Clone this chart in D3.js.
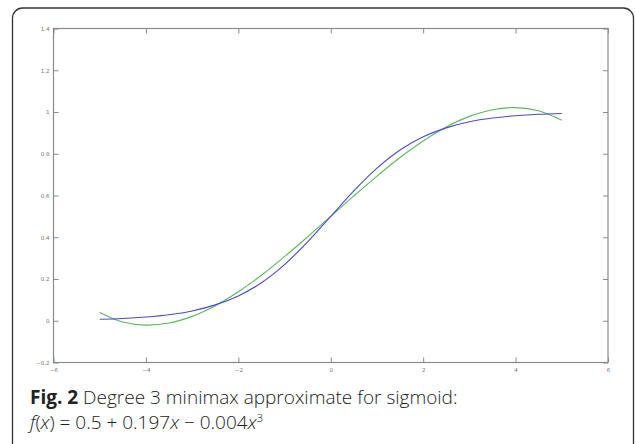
<!DOCTYPE html>
<html>
<head>
<meta charset="utf-8">
<title>sigmoid minimax</title>
<script src="https://cdnjs.cloudflare.com/ajax/libs/d3/7.8.5/d3.min.js"></script>
<style>
body{margin:0;background:#fff}
svg{display:block}
</style>
</head>
<body>
<svg width="635" height="444"></svg>
<script>
// values, x = -5 .. 5 step 0.5
var xs = [-5,-4.5,-4,-3.5,-3,-2.5,-2,-1.5,-1,-0.5,0,0.5,1,1.5,2,2.5,3,3.5,4,4.5,5]
var sigmoidVals = [0.007,0.011,0.018,0.029,0.047,0.076,0.119,0.182,0.269,0.378,0.5,0.622,0.731,0.818,0.881,0.924,0.953,0.971,0.982,0.989,0.993]
var approxVals = [0.040,-0.006,-0.021,-0.011,0.021,0.072,0.139,0.218,0.307,0.402,0.5,0.598,0.693,0.782,0.861,0.928,0.979,1.011,1.021,1.006,0.960]
var xTicks = [-6,-4,-2,0,2,4,6]
var yTicks = [-0.2,0,0.2,0.4,0.6,0.8,1,1.2,1.4]

var svg = d3.select('svg')

// figure frame
svg.append('rect')
	.attr('x',12.5).attr('y',8)
	.attr('width',621).attr('height',470)
	.attr('rx',10)
	.attr('fill','none')
	.attr('stroke','#333')
	.attr('stroke-width',1.3)

var plotL = 53.5, plotR = 608, plotT = 28.5, plotB = 362.5
var x = d3.scaleLinear().domain([-6,6]).range([plotL,plotR])
var y = d3.scaleLinear().domain([-0.2,1.4]).range([plotB,plotT])

var axisColor = '#8a8a8a'
function styleAxis(g){
	g.select('.domain').remove()
	g.selectAll('line').attr('stroke',axisColor).attr('stroke-width',1)
	g.selectAll('text').attr('fill','#777').attr('font-size',5.5).attr('font-family','DejaVu Sans')
}

// box
svg.append('rect')
	.attr('x',plotL).attr('y',plotT)
	.attr('width',plotR-plotL).attr('height',plotB-plotT)
	.attr('fill','none').attr('stroke',axisColor).attr('stroke-width',1.2)

svg.append('g').attr('transform','translate(0,'+plotB+')')
	.call(d3.axisBottom(x).tickValues(xTicks).tickSize(-5).tickPadding(6).tickFormat(d3.format('d')))
	.call(styleAxis)
svg.append('g').attr('transform','translate(0,'+plotT+')')
	.call(d3.axisTop(x).tickValues(xTicks).tickSize(-5).tickFormat(''))
	.call(styleAxis)
svg.append('g').attr('transform','translate('+plotL+',0)')
	.call(d3.axisLeft(y).tickValues(yTicks).tickSize(-5).tickPadding(4).tickFormat(d => d3.format('~g')(d)))
	.call(styleAxis)
svg.append('g').attr('transform','translate('+plotR+',0)')
	.call(d3.axisRight(y).tickValues(yTicks).tickSize(-5).tickFormat(''))
	.call(styleAxis)

var line = d3.line().curve(d3.curveCatmullRom)
	.x(d => x(d[0])).y(d => y(d[1]))

svg.append('path')
	.datum(xs.map((v,i) => [v,approxVals[i]]))
	.attr('d',line).attr('fill','none')
	.attr('stroke','#5cb85c').attr('stroke-width',1.1)

svg.append('path')
	.datum(xs.map((v,i) => [v,sigmoidVals[i]]))
	.attr('d',line).attr('fill','none')
	.attr('stroke','#4a4ad8').attr('stroke-width',1.1)

// caption
var cap = svg.append('g').attr('font-family','Open Sans').attr('font-size',19).attr('fill','#222')
var t1 = cap.append('text').attr('x',30).attr('y',404)
t1.append('tspan').attr('font-weight','bold').text('Fig. 2')
t1.append('tspan').attr('font-weight',300).text(' Degree 3 minimax approximate for sigmoid:')
var t2 = cap.append('text').attr('x',30).attr('y',429).attr('font-weight',300)
t2.append('tspan').attr('font-style','italic').text('f')
t2.append('tspan').text('(')
t2.append('tspan').attr('font-style','italic').text('x')
t2.append('tspan').text(') = 0.5 + 0.197')
t2.append('tspan').attr('font-style','italic').text('x')
t2.append('tspan').text(' \u2212 0.004')
t2.append('tspan').attr('font-style','italic').text('x')
t2.append('tspan').attr('font-size',11.5).attr('dy',-7).text('3')
</script>
</body>
</html>
